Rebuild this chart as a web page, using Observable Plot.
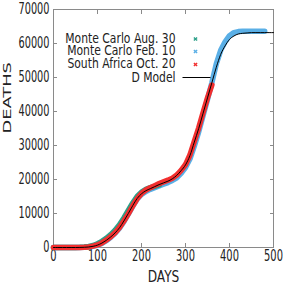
<!DOCTYPE html>
<html>
<head>
<meta charset="utf-8">
<script src="https://cdn.jsdelivr.net/npm/d3@7"></script>
<script src="https://cdn.jsdelivr.net/npm/@observablehq/plot@0.6"></script>
<style>
  html, body { margin: 0; padding: 0; background: #fff; }
  #chart { width: 284px; height: 284px; }
</style>
</head>
<body>
<div id="chart"></div>
<script>
// ---- data ----
const modelDays = [0,10,20,30,40,50,60,70,80,90,100,110,120,130,140,150,160,170,180,190,200,210,220,230,240,250,260,270,280,290,300,310,320,330,340,350,360,370,380,390,400,410,420,430,440,450,460,470,480,490,500];
const modelDeaths = [0,0,0,0,0,0,20,60,150,350,
  700,1300,2100,3100,4300,5800,7800,10000,12300,14400,
  15800,16700,17300,17900,18500,19000,19500,20200,21200,22600,
  24300,27000,31000,35000,39500,44000,48500,53000,56800,59300,
  61200,62200,62800,63000,63100,63200,63200,63200,63200,63200,
  63200];

const saDays = [0,10,20,30,40,50,60,70,80,90,100,110,120,130,140,150,160,170,180,190,200,210,220,230,240,250,260,270,280,290,300,310,320,330,340,350,360];
const saDeaths = [0,0,0,0,0,0,30,80,180,400,
  750,1350,2150,3150,4350,5900,7800,9900,12200,14300,
  15900,16900,17600,18200,18800,19300,19800,20400,21300,22700,
  24400,27200,31200,35200,39700,44000,47800];

const augDays = [0,10,20,30,40,50,60,70,80,90,100,110,120,130,140,150,160,170,180,190,200,210,220,230,240];
const augDeaths = [0,0,0,0,0,0,50,150,300,600,
  1100,1800,2700,3800,5100,6700,8700,10900,13100,15000,
  16300,17100,17600,18000,18400];

const febDays = [0,10,20,30,40,50,60,70,80,90,100,110,120,130,140,150,160,170,180,190,200,210,220,230,240,250,260,270,280,290,300,310,320,330,340,350,360,370,380,390,400,410,420,430,440,450,460,470,480];
const febDeaths = [0,0,0,0,0,0,20,60,140,330,
  650,1200,2000,3000,4200,5700,7600,9800,12100,14200,
  15600,16500,17100,17600,18100,18600,19100,19700,20500,21800,
  23500,26000,29800,34000,38800,43500,48500,54000,58000,60500,
  62300,63200,63500,63600,63600,63600,63600,63600,63600];

const xTicks = [0,100,200,300,400,500];
const yTicks = [0,10000,20000,30000,40000,50000,60000,70000];

const legendLabels = ["Monte Carlo Aug. 30", "Monte Carlo Feb. 10", "South Africa Oct. 20", "D Model"];
const legendColors = ["#2ca089", "#5aafe6", "#f22f2f", "#000000"];
const xLabel = "DAYS";
const yLabel = "DEATHS";

const zip = (xs, ys) => xs.map((x, i) => ({x, y: ys[i]}));
const model = zip(modelDays, modelDeaths);
const sa = zip(saDays, saDeaths);
const aug = zip(augDays, augDeaths);
const feb = zip(febDays, febDeaths);

const axisGray = "#8a8a8a";
const legendDy = [29, 41.5, 54.5, 68];
const plain = d => String(d);

const legendMarks = [];
legendLabels.forEach((lab, i) => {
  legendMarks.push(Plot.text([lab], {
    text: d => d, frameAnchor: "top-left", dx: 122, dy: legendDy[i],
    textAnchor: "end", lineAnchor: "middle", fontSize: 14, fill: "#222", className: "legend-text"
  }));
  if (i < 3) {
    legendMarks.push(Plot.dot([lab], {
      frameAnchor: "top-left", dx: 142, dy: legendDy[i] + 0.5,
      symbol: "times", r: 1.6, stroke: legendColors[i], strokeWidth: 1.4
    }));
  } else {
    legendMarks.push(Plot.dot([lab], {
      frameAnchor: "top-left", dx: 143, dy: legendDy[i],
      symbol: {draw(ctx) { ctx.moveTo(-14, 0); ctx.lineTo(14, 0); }},
      stroke: "#000", strokeWidth: 1, r: 5
    }));
  }
});

const chart = Plot.plot({
  width: 284,
  height: 284,
  marginLeft: 53,
  marginRight: 11,
  marginTop: 9,
  marginBottom: 37,
  style: {fontFamily: "DejaVu Sans", fontSize: "15px", background: "#fff", color: "#222"},
  x: {domain: [0, 500]},
  y: {domain: [0, 70000]},
  marks: [
    Plot.frame({stroke: axisGray}),
    Plot.axisY(yTicks, {anchor: "left", tickSize: 0, tickPadding: 4, label: null, tickFormat: plain, fontSize: 15, fill: "#222", className: "ytl"}),
    Plot.axisX(xTicks, {anchor: "bottom", tickSize: 0, tickPadding: 3, label: null, tickFormat: plain, fontSize: 15, fill: "#222", className: "xtl"}),
    Plot.axisY(yTicks, {anchor: "left", tickSize: -4, tickFormat: () => "", label: null, stroke: axisGray}),
    Plot.axisY(yTicks, {anchor: "right", tickSize: -4, tickFormat: () => "", label: null, stroke: axisGray}),
    Plot.axisX(xTicks, {anchor: "bottom", tickSize: -4, tickFormat: () => "", label: null, stroke: axisGray}),
    Plot.axisX(xTicks, {anchor: "top", tickSize: -4, tickFormat: () => "", label: null, stroke: axisGray}),
    Plot.line(feb, {x: "x", y: "y", stroke: legendColors[1], strokeWidth: 5.5}),
    Plot.line(aug, {x: "x", y: "y", stroke: legendColors[0], strokeWidth: 5.5}),
    Plot.line(sa, {x: "x", y: "y", stroke: legendColors[2], strokeWidth: 5.5}),
    Plot.line(model, {x: "x", y: "y", stroke: "#000", strokeWidth: 1, curve: "monotone-x"}),
    Plot.text([xLabel], {text: d => d, frameAnchor: "bottom", dy: 34.5, lineAnchor: "bottom", fontSize: 15, fill: "#222", className: "xlab"}),
    Plot.text([yLabel], {text: d => d, frameAnchor: "left", dx: -46, dy: 5, rotate: -90, fontSize: 11, fill: "#222", className: "ylab"}),
    ...legendMarks
  ]
});

document.getElementById("chart").appendChild(chart);

function squeeze(selector, f) {
  chart.querySelectorAll(selector).forEach(t => {
    if (!t.textContent) return;
    const w = t.getComputedTextLength();
    t.setAttribute("textLength", (w * f).toFixed(1));
    t.setAttribute("lengthAdjust", "spacingAndGlyphs");
  });
}
squeeze(".ytl text", 0.65);
squeeze(".xtl text", 0.66);
squeeze(".legend-text text", 0.77);
squeeze(".xlab text", 0.81);
squeeze(".ylab text", 1.62);
</script>
</body>
</html>
